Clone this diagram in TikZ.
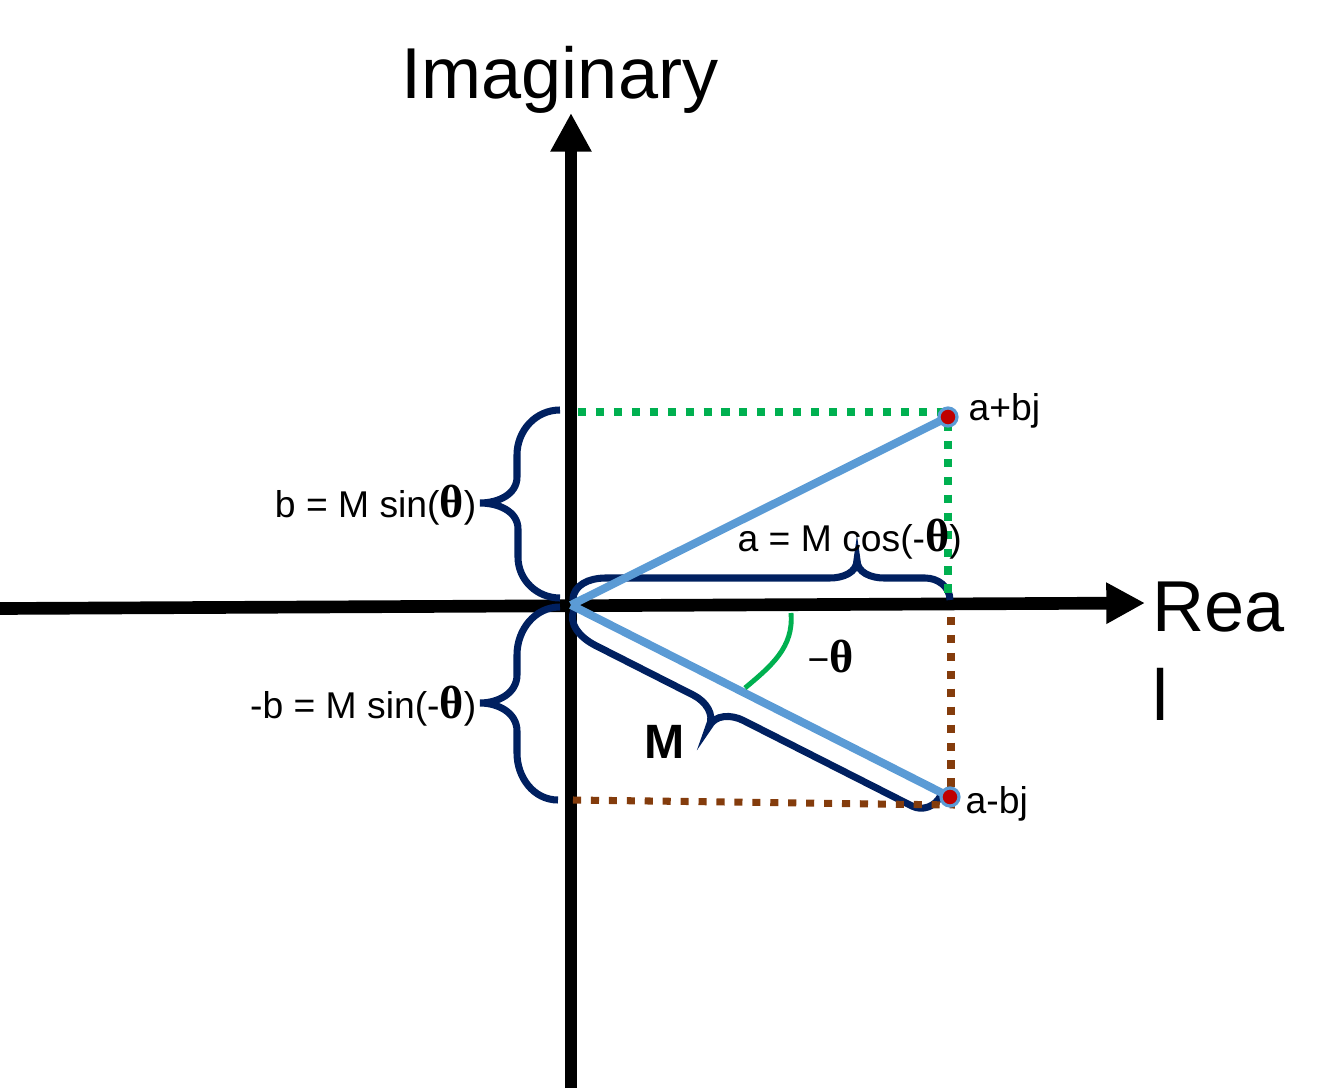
\documentclass[tikz,border=0pt]{standalone}
\usepackage{fontspec}
\setmainfont{Liberation Sans}
\newfontfamily\thfont{Liberation Serif}
\usetikzlibrary{positioning,arrows.meta}
\definecolor{navy}{RGB}{0,32,96}
\definecolor{vecblue}{RGB}{91,155,213}
\definecolor{dotgreen}{RGB}{0,176,80}
\definecolor{dotbrown}{RGB}{132,60,12}
\definecolor{dotred}{RGB}{192,0,0}
\newcommand{\bth}{{\thfont\bfseries\fontsize{13.2}{12}\selectfont θ}}
\tikzset{
  axis/.style={line width=3.6pt, -{Triangle[length=11pt,width=11pt]}},
  vec/.style={line width=2.3pt, vecblue},
  bracepath/.style={line width=2pt, navy},
  greendots/.style={line width=2pt, dotgreen, dash pattern=on 2.3pt off 2.8pt},
  browndots/.style={line width=2pt, dotbrown, dash pattern=on 2.3pt off 2.8pt},
  lbl/.style={inner sep=0pt, font=\fontsize{10.6}{12.7}\selectfont},
  bigl/.style={inner sep=0pt, font=\fontsize{20.5}{25.3}\selectfont},
  pt/.style={circle, fill=dotred, draw=vecblue, line width=0.9pt, inner sep=0pt, minimum size=0.18cm}
}
\begin{document}
\begin{tikzpicture}[x=0.01cm, y=0.01cm]
\useasboundingbox (-570,-485) rectangle (768,605);

% axes
\coordinate (O) at (1,0);
\coordinate (imBot) at (1,-483);
\coordinate (imTop) at (1,492);
\coordinate (reLeft) at (-570,-3.5);
\coordinate (reRight) at (575,2);
\draw[axis] (imBot) -- (imTop);
\draw[axis] (reLeft) -- (reRight);
\node (lblImag) [bigl, anchor=base] at (-10,507) {Imaginary};
\node (lblReal) [bigl, anchor=north west, align=left] at (582,24) {Rea\\l};

% braces
\draw[bracepath] (-10,195) to[out=180,in=90] (-53,150) -- (-53,128) to[out=270,in=0] (-90,102)
  to[out=0,in=90] (-52,76) -- (-52,48) to[out=270,in=180] (-10,7);
\draw[bracepath] (-10,-2) to[out=180,in=90] (-53,-50) -- (-53,-70) to[out=270,in=0] (-90,-98)
  to[out=0,in=90] (-53,-126) -- (-53,-148) to[out=270,in=180] (-12,-195);
\draw[bracepath] (3,5) to[out=90,in=180] (35,27) -- (260,27) to[out=0,in=270] (287,45)
  to[out=270,in=180] (314,27) -- (355,27) to[out=0,in=90] (380,5);
\begin{scope}[shift={(O)}, rotate=-26.9]
\draw[bracepath] (5,-2) to[out=-90,in=180] (40,-25) -- (150,-25) to[out=0,in=90] (178,-46)
  to[out=90,in=180] (206,-25) -- (395,-25) to[out=0,in=-90] (416,-3);
\end{scope}

% vectors
\coordinate (A1) at (378,188);
\coordinate (A2) at (380,-192);
\draw[vec] (O) -- (A1);
\draw[vec] (O) -- (A2);

% projections
\coordinate (gL) at (8,193);
\coordinate (gB) at (378,12);
\coordinate (bL) at (3,-195);
\coordinate (bR) at (385,-200);
\coordinate (bT) at (381,-12);
\draw[greendots] (gL) -- (gL -| A1);
\draw[greendots] (378,182) -- (gB);
\draw[browndots] (bT) -- (bT |- bL);
\draw[browndots] (bL) -- (bR);

% angle
\coordinate (angA) at (221,-8);
\coordinate (angB) at (175,-83);
\draw[dotgreen, line width=1.4pt] (angA) to[out=-85,in=40] (angB);

% points
\node (P1) [pt] at (A1) {};
\node (P2) [pt] at (A2) {};

% labels
\node (lblPa) [lbl, anchor=base west] at (398,185) {a+bj};
\node (lblPb) [lbl, anchor=base west] at (395,-208) {a-bj};
\node (lblB) [lbl, anchor=base east] at (-93,88) {b = M sin(\bth)};
\node (lblNegB) [lbl, anchor=base east] at (-93,-113) {-b = M sin(-\bth)};
\node (lblA) [lbl, anchor=base west] at (167,54) {a = M cos(-\bth)};
\node (lblAng) [lbl, anchor=base west] at (237,-67) {−\bth};
\node (lblM) [inner sep=0pt, anchor=base, font=\fontsize{13.7}{16}\selectfont\bfseries] at (95,-153) {M};
\end{tikzpicture}
\end{document}
